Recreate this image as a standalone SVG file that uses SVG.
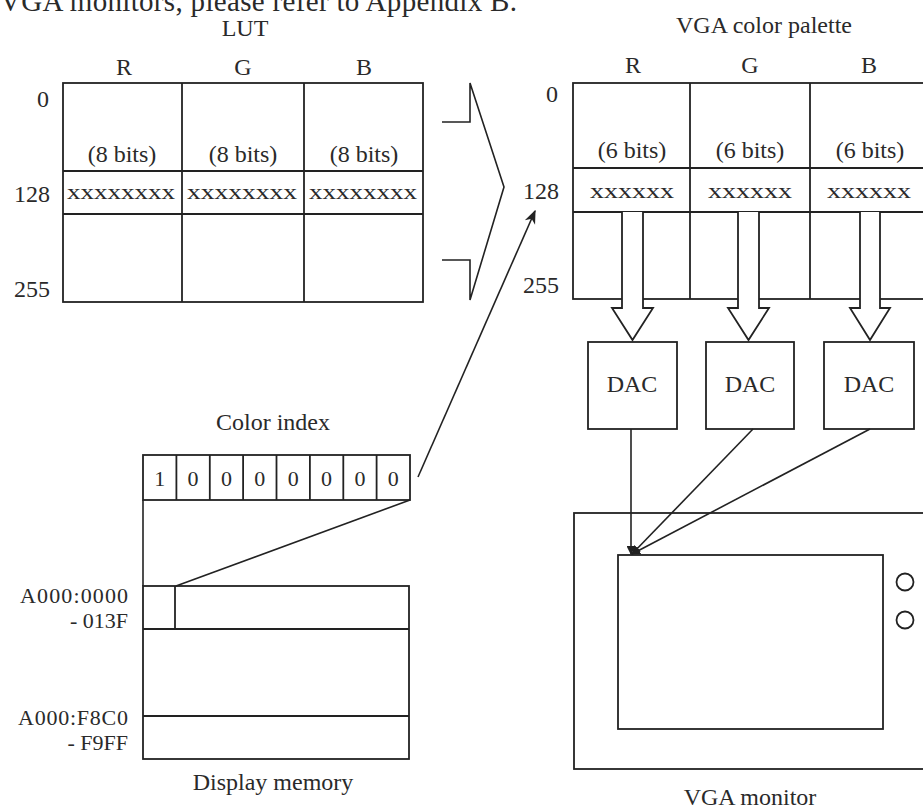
<svg xmlns="http://www.w3.org/2000/svg" width="923" height="811" viewBox="0 0 923 811">
<style>
text{font-family:"Liberation Serif","Times New Roman",serif;fill:#2a2a2a;font-size:24px}
.c{text-anchor:middle}
.r{text-anchor:end}
.x{font-size:22px}
.a{font-size:22px}
.box{fill:none;stroke:#222;stroke-width:1.8}
.ln{fill:none;stroke:#222;stroke-width:1.6}
.ha{fill:#fff;stroke:#222;stroke-width:1.8;stroke-linejoin:miter}
</style>
<defs>
<marker id="ah" viewBox="0 0 10 10" refX="9" refY="5" markerWidth="9" markerHeight="9" markerUnits="userSpaceOnUse" orient="auto">
<path d="M0,0 L10,5 L0,10 z" fill="#222"/>
</marker>
<marker id="ah2" viewBox="0 0 10 10" refX="9" refY="5" markerWidth="14" markerHeight="14" markerUnits="userSpaceOnUse" orient="auto">
<path d="M0,1 L10,5 L0,9 L3,5 z" fill="#222"/>
</marker>
</defs>
<rect width="923" height="811" fill="#fff"/>
<text x="0" y="11" style="font-size:29px" textLength="517">VGA monitors, please refer to Appendix B.</text>

<g id="lut">
<text class="c" x="245" y="36">LUT</text>
<text class="c" x="124" y="75">R</text>
<text class="c" x="243" y="75">G</text>
<text class="c" x="364" y="75">B</text>
<text class="r" x="49" y="107">0</text>
<text class="r" x="50" y="202">128</text>
<text class="r" x="50" y="297">255</text>
<rect class="box" x="63" y="83" width="360" height="219"/>
<line class="box" x1="182" y1="83" x2="182" y2="302"/>
<line class="box" x1="304" y1="83" x2="304" y2="302"/>
<line class="box" x1="63" y1="171" x2="423" y2="171"/>
<line class="box" x1="63" y1="214" x2="423" y2="214"/>
<text class="c" x="122" y="162">(8 bits)</text>
<text class="c" x="243" y="162">(8 bits)</text>
<text class="c" x="364" y="162">(8 bits)</text>
<text class="x" x="67" y="199" textLength="108" lengthAdjust="spacingAndGlyphs">xxxxxxxx</text>
<text class="x" x="187" y="199" textLength="110" lengthAdjust="spacingAndGlyphs">xxxxxxxx</text>
<text class="x" x="309" y="199" textLength="108" lengthAdjust="spacingAndGlyphs">xxxxxxxx</text>
</g>

<g id="chevron">
<polyline class="ln" points="442,122 470,122 470,83 504,187 470,300 470,260 442,260"/>
</g>

<g id="palette">
<text class="c" x="764" y="33">VGA color palette</text>
<text class="c" x="633" y="73">R</text>
<text class="c" x="750" y="73">G</text>
<text class="c" x="869" y="73">B</text>
<text class="r" x="558" y="102">0</text>
<text class="r" x="559" y="199">128</text>
<text class="r" x="559" y="293">255</text>
<rect class="box" x="573" y="83" width="370" height="216"/>
<line class="box" x1="690" y1="83" x2="690" y2="299"/>
<line class="box" x1="810" y1="83" x2="810" y2="299"/>
<line class="box" x1="573" y1="168" x2="923" y2="168"/>
<line class="box" x1="573" y1="212" x2="923" y2="212"/>
<text class="c" x="632" y="158">(6 bits)</text>
<text class="c" x="750" y="158">(6 bits)</text>
<text class="c" x="870" y="158">(6 bits)</text>
<text class="x c" x="632" y="198" textLength="84" lengthAdjust="spacingAndGlyphs">xxxxxx</text>
<text class="x c" x="750" y="198" textLength="84" lengthAdjust="spacingAndGlyphs">xxxxxx</text>
<text class="x c" x="869" y="198" textLength="84" lengthAdjust="spacingAndGlyphs">xxxxxx</text>
</g>

<g id="dac1">
<rect class="box" x="588" y="342" width="89" height="87"/>
<text class="c" x="632" y="392">DAC</text>
</g>
<g id="dac2">
<rect class="box" x="706" y="342" width="88" height="87"/>
<text class="c" x="750" y="392">DAC</text>
</g>
<g id="dac3">
<rect class="box" x="824" y="342" width="90" height="87"/>
<text class="c" x="869" y="392">DAC</text>
</g>

<g id="monitor">
<rect class="box" x="574" y="513" width="370" height="256"/>
<rect class="box" x="618" y="555" width="265" height="174"/>
<circle class="box" cx="905" cy="582" r="8.5"/>
<circle class="box" cx="905" cy="620" r="8.5"/>
<text class="c" x="750" y="805">VGA monitor</text>
</g>

<g id="color-index">
<text class="c" x="273" y="430">Color index</text>
<rect class="box" x="143" y="455" width="267" height="45"/>
<line class="box" x1="176.4" y1="455" x2="176.4" y2="500"/>
<line class="box" x1="209.8" y1="455" x2="209.8" y2="500"/>
<line class="box" x1="243.1" y1="455" x2="243.1" y2="500"/>
<line class="box" x1="276.5" y1="455" x2="276.5" y2="500"/>
<line class="box" x1="309.9" y1="455" x2="309.9" y2="500"/>
<line class="box" x1="343.3" y1="455" x2="343.3" y2="500"/>
<line class="box" x1="376.6" y1="455" x2="376.6" y2="500"/>
<text class="c a" x="159.7" y="486">1</text>
<text class="c a" x="193.1" y="486">0</text>
<text class="c a" x="226.5" y="486">0</text>
<text class="c a" x="259.8" y="486">0</text>
<text class="c a" x="293.2" y="486">0</text>
<text class="c a" x="326.6" y="486">0</text>
<text class="c a" x="360" y="486">0</text>
<text class="c a" x="393.3" y="486">0</text>
</g>

<g id="display-memory">
<rect class="box" x="143" y="586" width="266" height="173"/>
<line class="box" x1="143" y1="629" x2="409" y2="629"/>
<line class="box" x1="143" y1="716" x2="409" y2="716"/>
<line class="box" x1="175" y1="586" x2="175" y2="629"/>
<text class="r a" x="128" y="603" textLength="108">A000:0000</text>
<text class="r a" x="128" y="628">- 013F</text>
<text class="r a" x="128" y="725" textLength="110">A000:F8C0</text>
<text class="r a" x="128" y="750">- F9FF</text>
<text class="c" x="273" y="790">Display memory</text>
</g>

<g id="connectors">
<line class="ln" x1="143" y1="500" x2="143" y2="586"/>
<line class="ln" x1="176" y1="586" x2="410" y2="500"/>
<line class="ln" x1="418" y1="477" x2="535" y2="211" marker-end="url(#ah2)"/>
<path class="ha" d="M622,212 V308 H612 L632.5,340 L653,308 H643 V212"/>
<path class="ha" d="M738,212 V308 H728 L748.5,340 L769,308 H759 V212"/>
<path class="ha" d="M860,212 V308 H850 L870,340 L890,308 H880 V212"/>
<line class="ln" x1="631" y1="429" x2="631" y2="554" marker-end="url(#ah)"/>
<line class="ln" x1="753" y1="429" x2="632" y2="554" marker-end="url(#ah)"/>
<line class="ln" x1="870" y1="429" x2="632" y2="554" marker-end="url(#ah)"/>
</g>
</svg>
